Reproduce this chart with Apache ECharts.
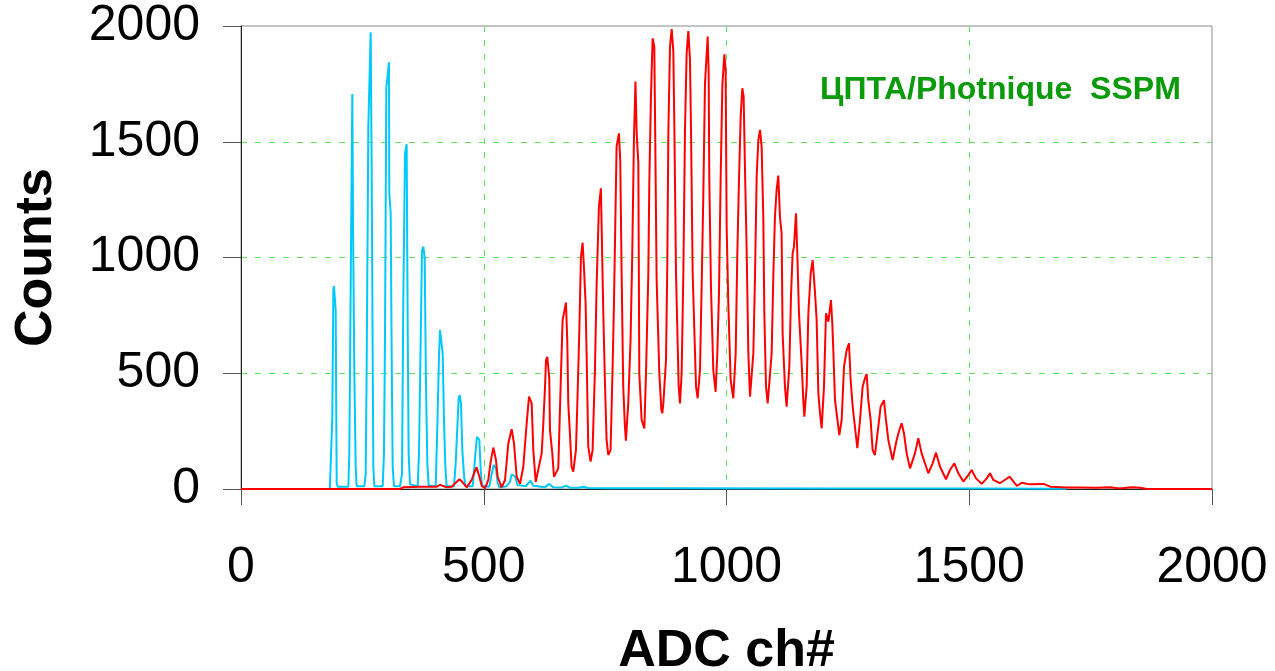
<!DOCTYPE html>
<html>
<head>
<meta charset="utf-8">
<script src="https://cdn.jsdelivr.net/npm/echarts@6/dist/echarts.min.js"></script>
<style>
html,body{margin:0;padding:0;background:#fff;overflow:hidden;}
#c{width:1275px;height:671px;}
</style>
</head>
<body>
<div id="c"></div>
<script>
// ADC channel / counts pairs
const cyanSpectrum = [
[183,0],[186,8],
[188.1,312],[190.2,860],[191.5,877],[192.9,870],[195.0,773],[196.3,300],[197.1,25],[199.1,10],
[221.1,10],[223.1,154],[226.6,1047],[229.3,1706],[230.7,1162],[233.4,514],[236.2,96],[238.2,12],
[254.0,12],[256.8,63],[258.8,514],[262.3,1565],[267.1,1973],[269.1,1392],[271.2,587],[272.6,96],[274.6,12],
[291.8,12],[294.5,154],[296.6,658],[299.3,1738],[300.7,1757],[302.8,1750],[304.8,1843],[305.5,1277],[308.3,1191],[310.3,587],[312.4,96],[315.1,12],
[327.5,12],[331.6,63],[334.3,816],[337.8,1450],[341.2,1489],[343.3,701],[345.3,154],[348.1,20],
[363.9,12],[366.6,154],[370.1,644],[372.8,1030],[375.6,1047],[378.3,1000],[381.0,457],[383.8,111],[386.5,15],
[401.0,12],[404.4,269],[407.8,572],[409.9,687],[412.6,690],[415.4,586],[418.1,298],[420.9,96],[423.6,12],
[438.7,12],[442.2,111],[445.6,269],[448.3,392],[450.4,406],[453.1,370],[455.9,168],[459.3,60],[462.0,12],
[477.2,12],[480.6,96],[484.0,183],[486.1,225],[488.2,233],[490.9,212],[493.7,82],[496.4,15],
[511.5,10],[516.3,63],[520.4,104],[521.8,111],[525.2,89],[528.7,25],[532,8],
[547.2,12],[554.1,32],[557.5,63],[560.9,71],[565.0,54],[569.2,17],
[587.0,12],[591.8,25],[596.6,36],[602.1,14],
[626,8],[635.1,22],[643,8],[660,6],[669.4,14],[678,5],[695,5],[705,10],[715,4],[760,3],[900,3],[1200,2],[1500,2],[1700,1]
];
const redSpectrum = [
[0,0],[327,0],[335,8],[369,10],[403,10],[410,18],[413,22],[418,12],[424,7],[434,10],[444,30],[450,42],[456,30],[465,7],
[475,39],[480,68],[485.4,94],[491,53],[496,13],[502.6,3],[509.4,39],[514.2,118],[519.7,179],[525.2,125],[528.6,53],[536.9,7],
[543.8,39],[550.6,197],[557.5,258],[562.3,197],[567.8,53],[574.7,22],[581.5,96],[588.4,284],[593.2,399],[598.7,370],[602.1,168],[607,30],
[619.3,154],[622.7,284],[626.2,442],[628.2,557],[630.9,571],[633.0,564],[635.0,478],[636.4,255],[641.2,154],[644.6,53],[646.6,46],
[653.5,89],[658.3,442],[662.4,730],[665.2,759],[669.3,805],[672.0,644],[674.1,370],[677.5,240],[680.9,96],[684.4,75],
[689.9,168],[692.6,356],[696.7,672],[700.2,1004],[703.6,1064],[706.3,960],[709.8,802],[711.8,586],[715.3,183],[720.1,118],
[724.2,168],[729.0,514],[732.4,874],[737.2,1220],[741.3,1299],[746.1,773],[749.5,471],[753.0,212],[756.4,147],
[761.2,168],[765.3,514],[768.1,788],[773.6,1479],[778.4,1536],[781.1,1421],[783.9,946],[787.3,442],[790.8,269],[792.8,209],
[797.6,370],[802.4,644],[805.9,1018],[809.3,1508],[812.5,1760],[815.0,1536],[818.4,1407],[820.4,500],[825.2,298],[830.8,262],
[834.2,500],[839.0,932],[841.0,1320],[844.4,1695],[847.8,1947],[851.3,1911],[853.4,1479],[856.1,903],[861.6,500],[865.8,341],[867.8,327],
[869.9,370],[875.4,557],[878.1,975],[880.2,1536],[883.6,1911],[887.1,1987],[890.5,1889],[892.6,1565],[896.0,932],[901.5,442],[904.2,370],
[907.6,500],[911.1,932],[914.5,1551],[917.9,1882],[921.4,1978],[924.8,1853],[926.9,1551],[930.3,932],[937.2,442],[940.6,392],
[945.4,514],[948.8,874],[952.3,1277],[955.7,1752],[961.2,1954],[963.2,1810],[964.6,1335],[968.0,874],[972.8,514],[977.6,420],
[981.1,586],[984.5,845],[987.9,1335],[991.4,1738],[995.5,1878],[998.2,1810],[1000.3,1133],[1003.7,802],[1008.5,471],[1014.0,392],
[1018.9,586],[1022.3,1018],[1025.7,1335],[1029.2,1608],[1032.6,1731],[1035.3,1695],[1038.1,1378],[1041.5,1032],[1045.0,586],[1048.4,399],
[1055.3,586],[1058.7,917],[1062.1,1349],[1065.6,1508],[1069.0,1551],[1072.4,1479],[1075.9,1162],[1077.9,759],[1081.4,442],[1084.8,370],
[1093.0,586],[1096.4,917],[1099.8,1176],[1103.2,1292],[1106.7,1354],[1110.1,1176],[1113.5,1104],[1115.6,672],[1120.4,442],[1123.8,356],
[1129.4,528],[1132.8,831],[1136.2,1018],[1139.0,1047],[1143.1,1191],[1145.8,1018],[1149.3,759],[1154.8,543],[1158.2,385],[1160.3,312],
[1165.1,442],[1168.6,759],[1173.4,932],[1177.5,989],[1182.3,848],[1185.7,730],[1189.2,413],[1192.6,327],[1196.0,262],
[1200.8,442],[1204.9,759],[1209.7,723],[1213.1,716],[1215.2,816],[1217.9,716],[1220.0,600],[1223.5,384],[1232.4,233],
[1237.2,298],[1242.0,528],[1247.5,600],[1252.3,629],[1255.7,471],[1259.9,356],[1269.5,176],
[1275.0,298],[1280.4,442],[1285.2,478],[1288.7,497],[1292.1,384],[1296.9,298],[1301.0,168],[1305.8,147],
[1312.7,269],[1317.5,356],[1324.3,384],[1328.5,298],[1333.3,212],[1342.2,125],
[1350.5,212],[1356.0,255],[1360.8,284],[1365.6,240],[1371.1,154],[1378.0,89],
[1388.2,154],[1395.1,219],[1401.9,154],[1415.7,68],
[1424.6,111],[1431.5,157],[1439.8,96],[1452.1,42],
[1460.3,82],[1469.3,111],[1477.5,68],[1487.8,32],
[1498.1,60],[1505.0,82],[1513.9,46],[1525.6,22],
[1536.0,46],[1542.8,68],[1549.7,39],[1563,25],[1583,53],[1598,13],[1608,27],[1625,20],[1653,22],[1667,10],
[1701,7],[1729,7],[1763,5],[1790,8],[1810,2],[1835,8],[1852,5],[1866,0],[2000,0]
];
const xRange = [0, 2000];
const yRange = [0, 2000];
const tickStep = 500;
const annotation = 'ЦПТА/Photnique  SSPM';
const xTitle = 'ADC ch#';
const yTitle = 'Counts';

const FONT = '"Liberation Sans", Arial, sans-serif';
const gridLine = {show: true, showMinLine: false, showMaxLine: false,
                  lineStyle: {color: '#5fe35f', width: 1, type: [6, 8]}};
const plain = v => String(v);

const chart = echarts.init(document.getElementById('c'), null, {renderer: 'canvas'});
chart.setOption({
  animation: false,
  backgroundColor: '#ffffff',
  grid: {left: 241, right: 63, top: 26, bottom: 182, show: true, borderColor: '#8a8a8a', borderWidth: 1,
         containLabel: false, outerBoundsMode: 'none'},
  xAxis: {
    type: 'value', min: xRange[0], max: xRange[1], interval: tickStep,
    name: xTitle, nameLocation: 'middle', nameGap: 137,
    nameTextStyle: {fontFamily: FONT, fontSize: 52, fontWeight: 'bold', color: '#000'},
    axisLine: {show: true, onZero: false, lineStyle: {color: '#222', width: 1}},
    axisTick: {show: true, length: 16, lineStyle: {color: '#555'}},
    axisLabel: {fontFamily: FONT, fontSize: 50, color: '#000', margin: 54, formatter: plain},
    splitLine: gridLine
  },
  yAxis: {
    type: 'value', min: yRange[0], max: yRange[1], interval: tickStep,
    name: yTitle, nameLocation: 'middle', nameGap: 178,
    nameTextStyle: {fontFamily: FONT, fontSize: 52, fontWeight: 'bold', color: '#000'},
    axisLine: {show: true, onZero: false, lineStyle: {color: '#222', width: 1}},
    axisTick: {show: true, length: 18, lineStyle: {color: '#555'}},
    axisLabel: {fontFamily: FONT, fontSize: 50, color: '#000', margin: 41, formatter: plain},
    splitLine: gridLine
  },
  graphic: [{
    type: 'text', left: 820, top: 74, z: 10,
    style: {text: annotation, fill: '#0a9a0a', font: 'bold 32px ' + FONT}
  }],
  series: [
    {type: 'line', name: 'cyan', data: cyanSpectrum, showSymbol: false, symbol: 'none',
     lineStyle: {color: '#00c8f8', width: 2}, z: 2},
    {type: 'line', name: 'red', data: redSpectrum, showSymbol: false, symbol: 'none',
     lineStyle: {color: '#ff0000', width: 2}, z: 3}
  ]
});
</script>
</body>
</html>
